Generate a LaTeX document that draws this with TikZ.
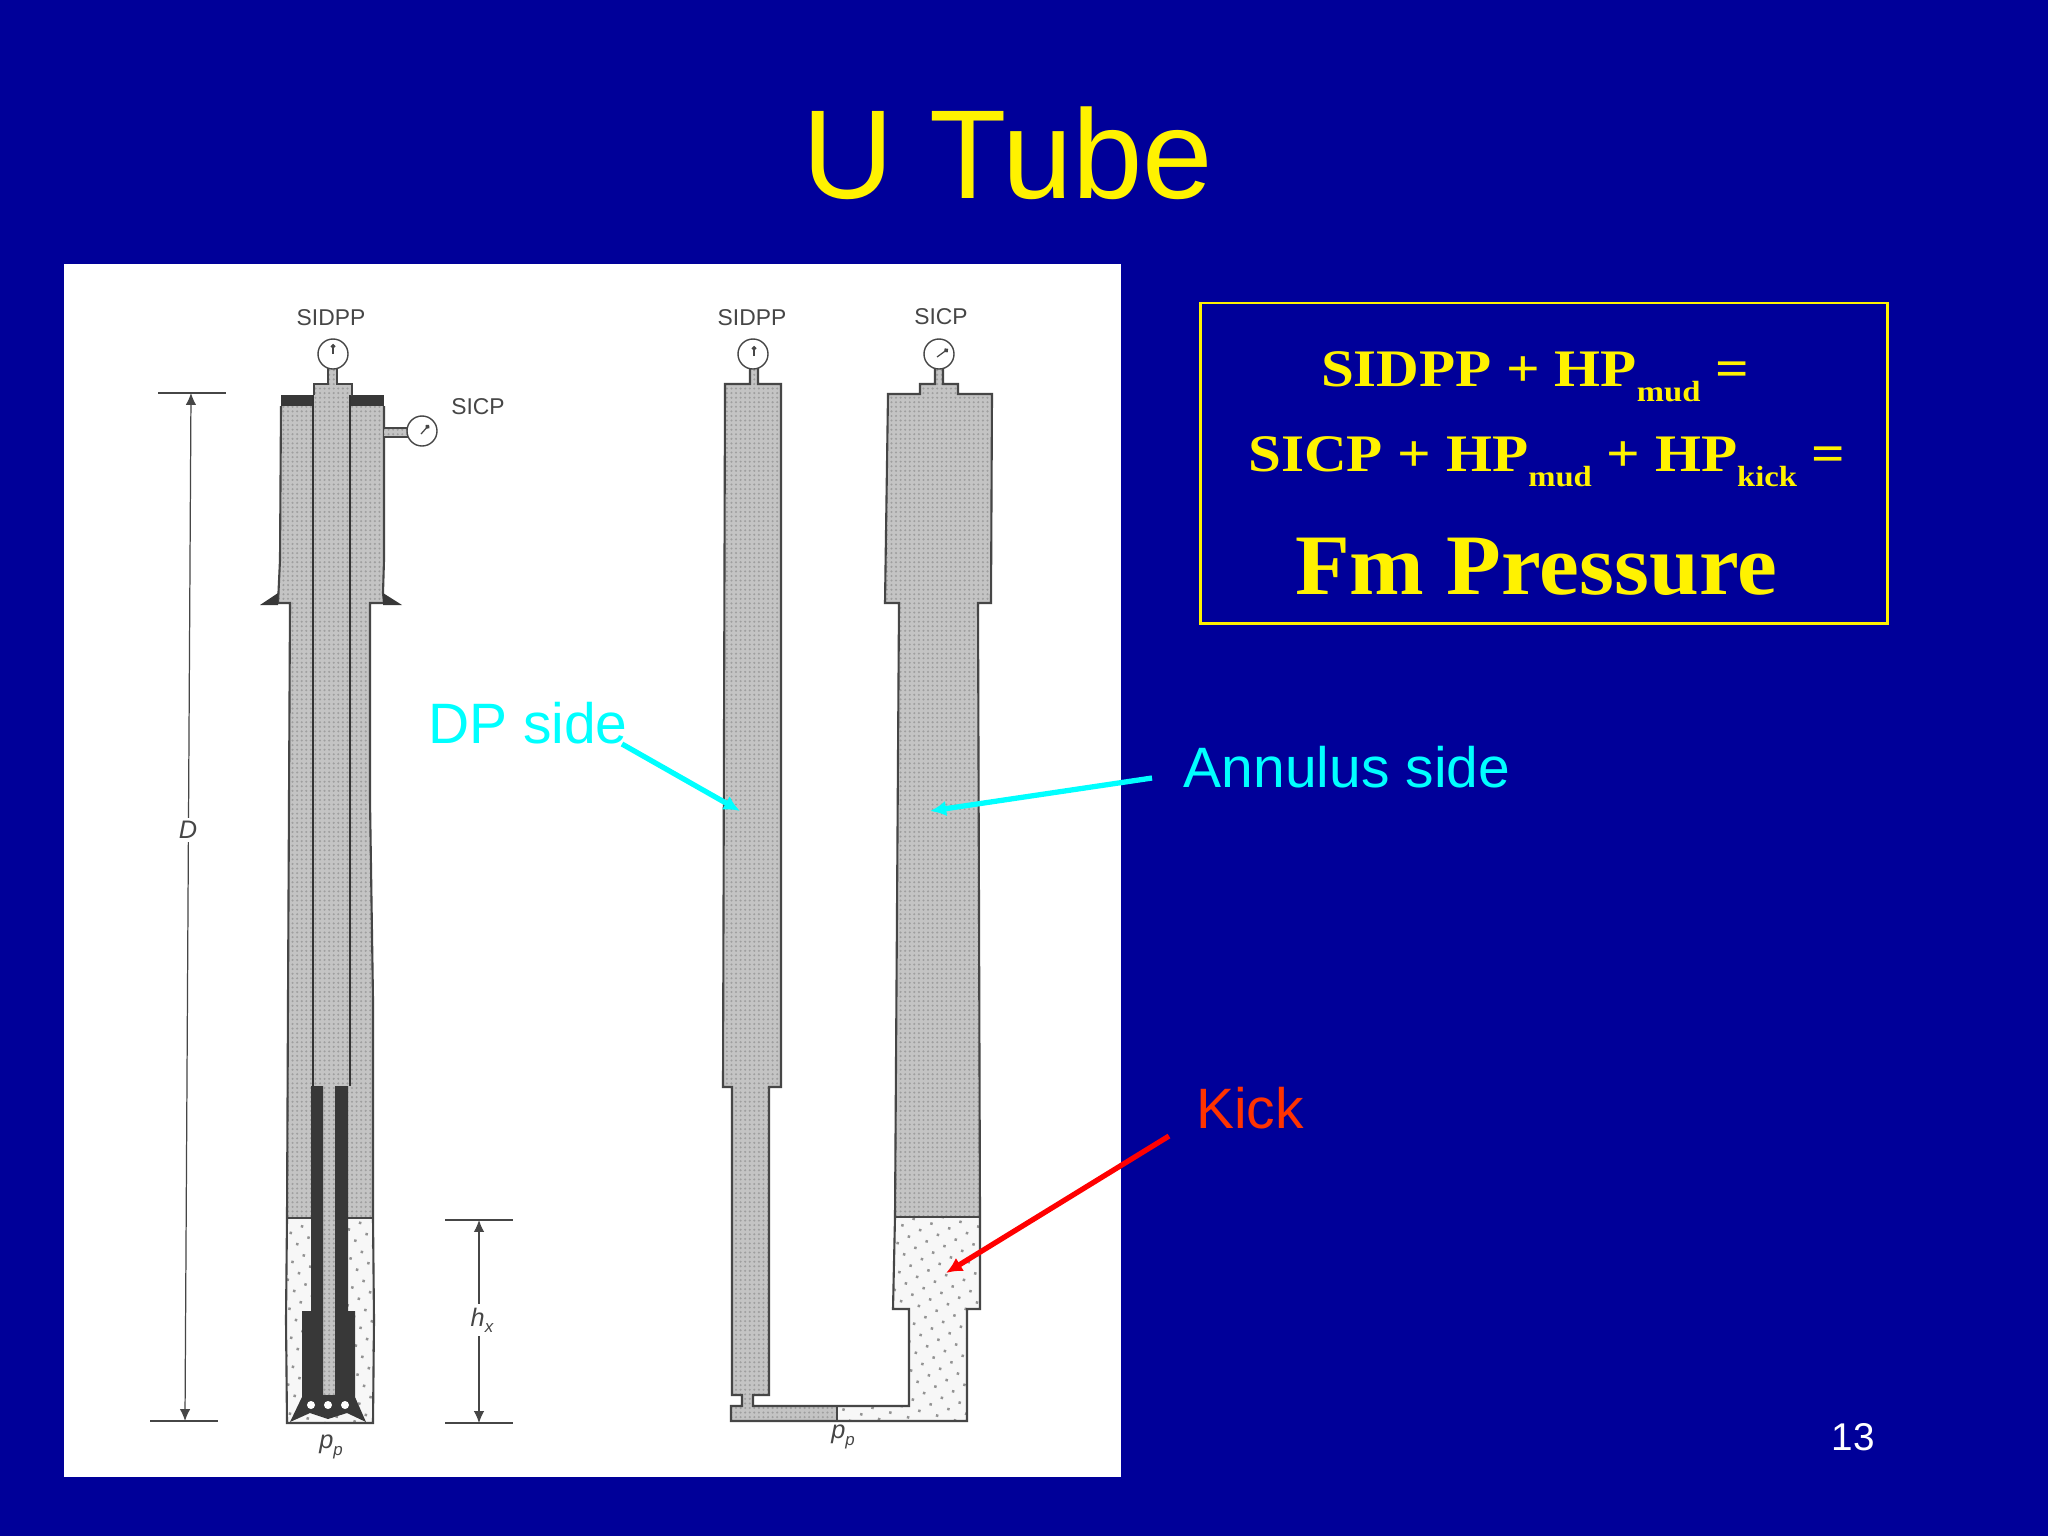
\documentclass[tikz,border=0pt]{standalone}
\usepackage{fontspec}
\setmainfont{Liberation Serif}
\setsansfont{Liberation Sans}
\newfontfamily\eqnfont{Liberation Serif Bold}[FakeStretch=1.12]
\newfontfamily\fmfont{Liberation Serif Bold}[FakeStretch=1.04]
\usetikzlibrary{arrows.meta,patterns.meta}
\definecolor{slideblue}{RGB}{0,0,153}
\definecolor{kickred}{RGB}{255,51,0}
\definecolor{labelcyan}{RGB}{0,255,255}
\definecolor{inkgray}{RGB}{70,70,70}
\definecolor{mudgray}{RGB}{196,196,196}
\newcommand{\lowtxt}[1]{\raisebox{-.3em}{\fontsize{8.3pt}{10pt}\selectfont #1}}
\newcommand{\lowscan}[1]{\raisebox{-.25em}{\fontsize{4.8pt}{5pt}\selectfont #1}}

\begin{document}
\begin{tikzpicture}[
  x=0.01cm,y=-0.01cm,
  font=\sffamily,
  >=Latex,
  mud/.style={fill=mudgray,postaction={pattern={Dots[distance=1.3pt,radius=.33pt]},pattern color=gray!75}},
  kick/.style={fill=gray!6,postaction={pattern={Dots[distance=3.7pt,radius=.5pt,angle=30]},pattern color=gray!85}},
  wall/.style={draw=inkgray,line width=.6pt},
  pipe/.style={draw=black!80,line width=.85pt},
  steel/.style={fill=black!78,draw=none},
  gauge/.style={circle,draw=inkgray,fill=white,line width=.4pt,minimum size=3mm,inner sep=0pt},
  needle/.style={draw=inkgray,line width=.35pt,-{Circle[length=1.3pt]}},
  scan/.style={text=inkgray,font=\sffamily\fontsize{6.5pt}{8pt}\selectfont,inner sep=0pt},
  scanit/.style={text=inkgray,font=\sffamily\itshape\fontsize{7.2pt}{8pt}\selectfont,inner sep=0pt},
  dim/.style={draw=inkgray,line width=.35pt,{Latex[length=3.4pt,width=3pt]}-{Latex[length=3.4pt,width=3pt]}},
  tick/.style={draw=inkgray,line width=.55pt},
  eqn/.style={text=yellow,anchor=base,inner sep=0pt,font=\eqnfont\fontsize{15pt}{18pt}\selectfont},
  note/.style={anchor=base,inner sep=0pt,font=\sffamily\fontsize{16.2pt}{20pt}\selectfont},
  pointer/.style={line width=1.5pt,-{Latex[length=4.6pt,width=4.4pt]}}
]
\useasboundingbox (0,0) rectangle (2048,1536);
\fill[slideblue] (0,0) rectangle (2048,1536);
\node[text=yellow,anchor=base,inner sep=0pt,font=\sffamily\fontsize{36pt}{44pt}\selectfont] (title) at (1008,198) {U Tube};
\fill[white] (64,264) rectangle (1121,1477);

% well with drillstring
\path[mud] (281,406) -- (384,406) -- (384,560) -- (383,593) -- (384,603) -- (370,603) -- (370,800) -- (373,1000) -- (373,1218) -- (287,1218) -- (288,1000) -- (289,800) -- (290,603) -- (278,603) -- (280,560) -- cycle;
\path[kick] (287,1218) -- (373,1218) -- (374,1320) -- (373,1423) -- (287,1423) -- (286,1320) -- cycle;
\draw[wall] (281,406) -- (280,560) -- (278,603) -- (290,603) -- (289,800) -- (288,1000) -- (287,1218) -- (286,1320) -- (287,1423) -- (373,1423) -- (374,1320) -- (373,1218) -- (373,1000) -- (370,800) -- (370,603) -- (384,603) -- (383,593) -- (384,560) -- (384,406);
\draw[wall] (287,1218) -- (373,1218);
\fill[steel] (281,395) rectangle (384,406);
\fill[steel] (260,605) -- (278,605) -- (278,593) -- cycle;
\fill[steel] (383,593) -- (383,605) -- (402,605) -- cycle;
\path[mud] (314,384) -- (352,384) -- (352,395) -- (350,395) -- (350,1086) -- (313,1086) -- (313,395) -- (314,395) -- cycle;
\path[mud] (323,1086) rectangle (335,1395);
\path[mud] (328,368) rectangle (337,384);
\draw[wall] (328,368) -- (328,384) -- (314,384) -- (314,395);
\draw[wall] (337,368) -- (337,384) -- (352,384) -- (352,395);
\draw[pipe] (313,395) -- (313,1086);
\draw[pipe] (350,395) -- (350,1086);
\fill[steel] (311,1086) -- (323,1086) -- (323,1395) -- (335,1395) -- (335,1086) -- (348,1086) -- (348,1311) -- (355,1311) -- (355,1397) -- (366,1422) -- (347,1413) -- (328,1419) -- (310,1413) -- (290,1422) -- (302,1397) -- (302,1311) -- (311,1311) -- cycle;
\fill[white] (311,1405) circle (4);
\fill[white] (328,1405) circle (4);
\fill[white] (345,1405) circle (4);
\path[mud] (384,428) rectangle (408,437);
\draw[wall] (384,428) -- (408,428) (384,437) -- (408,437);

\node[gauge] (gaugeA) at (333,354) {};
\node[gauge] (gaugeB) at (422,431) {};
\draw[needle] (gaugeA.center) -- ++(0,-10);
\draw[needle] (gaugeB.center) ++(-1,3) -- ++(8,-9);
\node[scan] (sidppA) at (331,318) {SIDPP};
\node[scan] (sicpA) at (478,407) {SICP};
\node[scanit] (ppA) at (331,1447) {p\lowscan{p}};

% depth marks
\coordinate (dtop) at (191,393);
\coordinate (dbot) at (185,1421);
\draw[tick] (158,393) -- (226,393);
\draw[tick] (150,1421) -- (218,1421);
\draw[dim] (dtop) -- (dbot);
\node[scanit,fill=white,inner sep=1pt] (depth) at (188,830) {D};
\coordinate (htop) at (479,1220);
\coordinate (hbot) at (479,1423);
\draw[tick] (445,1220) -- (513,1220);
\draw[tick] (445,1423) -- (513,1423);
\draw[dim] (htop) -- (hbot);
\node[scanit,fill=white,inner sep=1pt] (height) at (482,1320) {h\lowscan{x}};

% u tube
\path[mud] (725,384) -- (781,384) -- (781,1087) -- (769,1087) -- (769,1395) -- (753,1395) -- (753,1406) -- (837,1406) -- (837,1421) -- (731,1421) -- (731,1406) -- (742,1406) -- (742,1395) -- (732,1395) -- (732,1087) -- (723,1087) -- cycle;
\path[mud] (750,368) rectangle (758,384);
\path[mud] (920,384) -- (958,384) -- (958,394) -- (992,394) -- (991,603) -- (978,603) -- (980,1217) -- (895,1217) -- (899,603) -- (885,603) -- (888,394) -- (920,394) -- cycle;
\path[mud] (935,368) rectangle (943,384);
\path[kick] (895,1217) -- (980,1217) -- (980,1309) -- (967,1309) -- (967,1421) -- (837,1421) -- (837,1406) -- (909,1406) -- (909,1309) -- (893,1309) -- cycle;
\draw[wall] (750,368) -- (750,384) -- (725,384) -- (723,1087) -- (732,1087) -- (732,1395) -- (742,1395) -- (742,1406) -- (731,1406) -- (731,1421) -- (967,1421) -- (967,1309) -- (980,1309) -- (980,1217) -- (978,603) -- (991,603) -- (992,394) -- (958,394) -- (958,384) -- (943,384) -- (943,368);
\draw[wall] (758,368) -- (758,384) -- (781,384) -- (781,1087) -- (769,1087) -- (769,1395) -- (753,1395) -- (753,1406) -- (909,1406) -- (909,1309) -- (893,1309) -- (895,1217) -- (899,603) -- (885,603) -- (888,394) -- (920,394) -- (920,384) -- (935,384) -- (935,368);
\draw[wall] (895,1217) -- (980,1217);
\draw[wall] (837,1406) -- (837,1421);

\node[gauge] (gaugeC) at (753,354) {};
\node[gauge] (gaugeD) at (939,354) {};
\draw[needle] (gaugeC.center) ++(1,2) -- ++(0,-10);
\draw[needle] (gaugeD.center) ++(-2,3) -- ++(11,-8);
\node[scan] (sidppB) at (752,318) {SIDPP};
\node[scan] (sicpB) at (941,317) {SICP};
\node[scanit] (ppB) at (843,1437) {p\lowscan{p}};

% equation box
\node[draw=yellow,line width=.8pt,minimum width=6.87cm,minimum height=3.2cm,inner sep=0pt] (box) at (1544,463) {};
\node[eqn] (lineA) at (1535,386) {SIDPP + HP\lowtxt{mud} =};
\node[eqn] (lineB) at (1547,471) {SICP + HP\lowtxt{mud} + HP\lowtxt{kick} =};
\node[eqn,font=\fmfont\fontsize{24.5pt}{28pt}\selectfont] (lineC) at (1536,594) {Fm Pressure};

% labels and arrows
\node[note,text=labelcyan] (dpside) at (528,743) {DP side};
\node[note,text=labelcyan] (annside) at (1347,787) {Annulus side};
\node[note,text=kickred] (kicklabel) at (1250,1128) {Kick};
\node[text=white,anchor=base,inner sep=0pt,font=\sffamily\fontsize{11pt}{13pt}\selectfont] (pagenum) at (1853,1450) {13};
\coordinate (dptip) at (740,811);
\coordinate (anntip) at (930,811);
\coordinate (kicktip) at (946,1273);
\coordinate (dpfrom) at (622,744);
\coordinate (annfrom) at (1152,778);
\coordinate (kickfrom) at (1169,1136);
\draw[pointer,labelcyan] (dpfrom) -- (dptip);
\draw[pointer,labelcyan] (annfrom) -- (anntip);
\draw[pointer,red] (kickfrom) -- (kicktip);
\end{tikzpicture}
\end{document}
